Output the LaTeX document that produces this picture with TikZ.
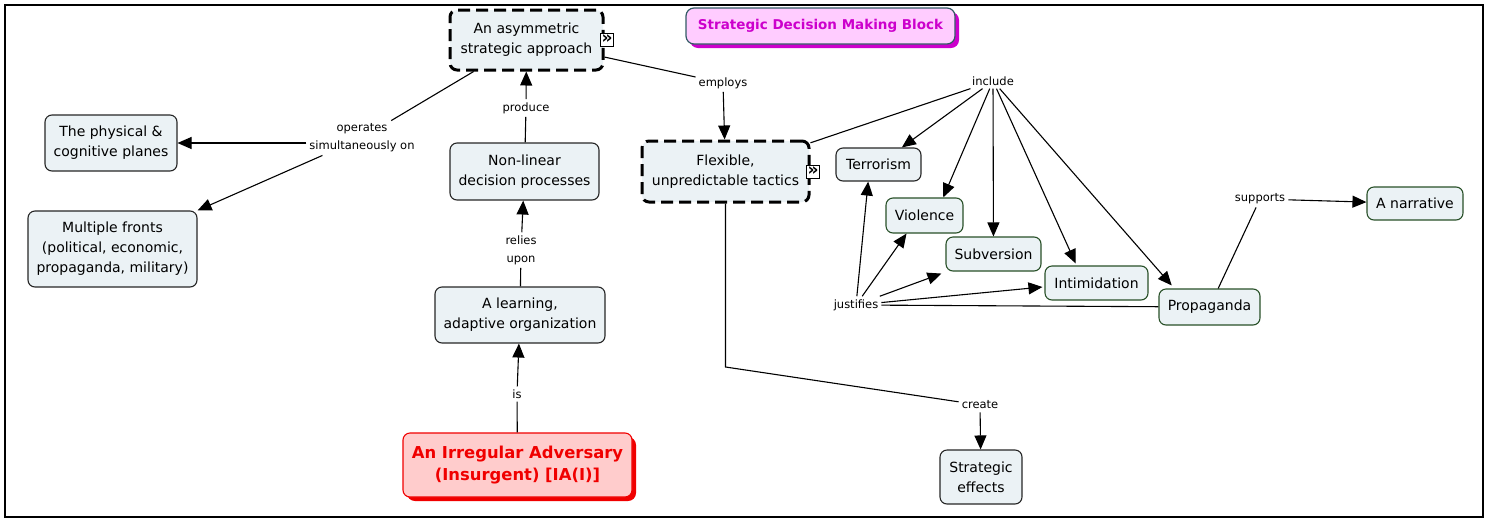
\documentclass[tikz,border=0pt]{standalone}
\usepackage{fontspec}
\setmainfont{DejaVu Sans}
\usetikzlibrary{arrows.meta,calc}
\definecolor{cfill}{RGB}{235,242,245}
\definecolor{gborder}{RGB}{40,80,40}
\definecolor{tborder}{RGB}{50,90,100}
\definecolor{pinkfill}{RGB}{255,204,255}
\definecolor{magtext}{RGB}{204,0,204}
\definecolor{iafill}{RGB}{255,204,204}
\definecolor{iared}{RGB}{240,0,0}
\tikzset{
  concept/.style={draw=black!85, line width=1.1pt, rounded corners=7pt, fill=cfill,
    align=center, inner sep=0pt, font=\fontsize{14}{20}\selectfont},
  gconcept/.style={concept, draw=gborder},
  dconcept/.style={concept, draw=black, line width=3pt, dash pattern=on 12pt off 6pt},
  lbl/.style={align=center, inner sep=3pt, font=\fontsize{11.5}{18}\selectfont},
  conn/.style={line width=1.1pt},
  arr/.style={line width=1.1pt, -{Triangle[length=14pt,width=12pt]}},
  iconbox/.style={draw, line width=1pt, fill=white, minimum size=13pt, inner sep=0pt,
    font=\bfseries\fontsize{17}{17}\selectfont}
}
\begin{document}
\begin{tikzpicture}[x=1pt,y=-1pt]
\useasboundingbox (0,0) rectangle (1489,523);
\draw[line width=1.5pt] (5,5) rectangle (1483,517);

% title
\fill[magtext, rounded corners=8pt] (690,12) rectangle (959,48);
\node[draw=tborder, line width=1.2pt, rounded corners=8pt, fill=pinkfill, minimum width=269pt, minimum height=36pt,
  inner sep=0pt, text=magtext, font=\bfseries\fontsize{13.5}{16}\selectfont] (title) at (820.5,26) {Strategic Decision Making Block};

% concepts
\node[dconcept, minimum width=153pt, minimum height=60pt] (asym) at (526.5,40) {An asymmetric\\strategic approach};
\node[iconbox] (icon1) at (607,40) {\raisebox{1pt}{»}};
\node[concept, minimum width=132pt, minimum height=56pt] (phys) at (111,143) {The physical \&\\cognitive planes};
\node[concept, minimum width=169pt, minimum height=76pt] (multi) at (112.5,249) {Multiple fronts\\(political, economic,\\propaganda, military)};
\node[concept, minimum width=149pt, minimum height=57pt] (nonlin) at (524.5,171.5) {Non-linear\\decision processes};
\node[concept, minimum width=170pt, minimum height=56pt] (learn) at (520,315) {A learning,\\adaptive organization};
\fill[iared, rounded corners=8pt] (407,437) rectangle (636,501);
\node[concept, draw=iared, fill=iafill, text=iared, minimum width=229pt, minimum height=64pt,
  font=\bfseries\fontsize{16.4}{22}\selectfont] (ia) at (517.5,465) {An Irregular Adversary\\(Insurgent) [IA(I)]};
\node[dconcept, minimum width=167pt, minimum height=61pt] (flex) at (725.5,171.5) {Flexible,\\unpredictable tactics};
\node[iconbox] (icon2) at (813,172) {\raisebox{1pt}{»}};
\node[concept, minimum width=85pt, minimum height=33pt] (terr) at (878.5,164.5) {Terrorism};
\node[gconcept, minimum width=77pt, minimum height=35pt] (viol) at (924.5,215.5) {Violence};
\node[gconcept, minimum width=95pt, minimum height=34pt] (subv) at (993.5,254) {Subversion};
\node[gconcept, minimum width=103pt, minimum height=34pt] (intim) at (1096.5,283) {Intimidation};
\node[gconcept, minimum width=101pt, minimum height=36pt] (prop) at (1209.5,307) {Propaganda};
\node[gconcept, minimum width=96pt, minimum height=33pt] (narr) at (1415,203.5) {A narrative};
\node[concept, minimum width=82pt, minimum height=54pt] (effects) at (981,477) {Strategic\\effects};

% linking phrases
\node[lbl] (ops) at (362,138) {operates\\simultaneously on};
\node[lbl] (produce) at (526,108) {produce};
\node[lbl] (relies) at (521,250) {relies\\upon};
\node[lbl] (is) at (517,394) {is};
\node[lbl] (employs) at (723,83) {employs};
\node[lbl] (include) at (993,81) {include};
\node[lbl] (justifies) at (856,305) {justifies};
\node[lbl] (create) at (980,405) {create};
\node[lbl] (supports) at (1260,199) {supports};
\coordinate (bend) at (725.5,367);

% connectors
\draw[conn] (asym) -- (ops);
\draw[arr] (ops.west |- phys) -- (phys);
\draw[arr] (ops) -- (multi.north east);
\draw[conn] (nonlin) -- (produce);
\draw[arr] (produce) -- (asym);
\draw[conn] (learn) -- (relies);
\draw[arr] (relies) -- (nonlin);
\draw[conn] (ia) -- (is);
\draw[arr] (is) -- (learn);
\draw[conn] (asym) -- (employs);
\draw[arr] (employs) -- (flex);
\draw[conn] (flex) -- (include);
\draw[arr] (include) -- (terr);
\draw[arr] (include) -- ($(viol.north west)!0.74!(viol.north east)$);
\draw[arr] (include) -- (subv);
\draw[arr] (include) -- ($(intim.north west)!0.3!(intim.north east)+(0,-2)$);
\draw[arr] (include) -- ($(prop.north west)!0.13!(prop.north east)+(0,-3)$);
\draw[conn] (flex) -- (bend) -- (create);
\draw[arr] (create) -- (effects);
\draw[conn] (prop) -- (justifies);
\draw[arr] (justifies) -- ($(terr.south west)!0.38!(terr.south east)$);
\draw[arr] (justifies) -- ($(viol.south west)!0.27!(viol.south east)$);
\draw[arr] (justifies) -- ($(subv.south west)+(-4,2)$);
\draw[arr] (justifies) -- ($(intim.west)+(-2,4)$);
\draw[conn] (prop) -- (supports);
\draw[arr] (supports) -- (narr);
\end{tikzpicture}
\end{document}
